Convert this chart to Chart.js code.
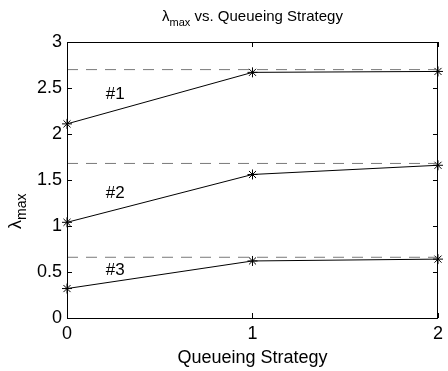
<!DOCTYPE html>
<html>
<head>
<meta charset="utf-8">
<script src="https://cdn.jsdelivr.net/npm/chart.js@4"></script>
<style>
    html, body { margin: 0; padding: 0; background: #fff; }
    #wrap { width: 448px; height: 371px; }
</style>
</head>
<body>
<div id="wrap"><canvas id="chart" width="448" height="371"></canvas></div>
<script>
// Queueing strategies on the x axis
const strategies = [0, 1, 2];

// lambda_max for the three cases
const lambda1 = [2.11, 2.67, 2.68];
const lambda2 = [1.04, 1.56, 1.66];
const lambda3 = [0.32, 0.62, 0.64];

// dashed upper bounds, drawn from first to last strategy
const boundX = [0, 2];
const bounds = [2.70, 1.68, 0.66];

// case labels and where they sit (data units)
const caseLabels = ['#1', '#2', '#3'];
const caseLabelX = [0.26, 0.26, 0.26];
const caseLabelY = [2.43, 1.36, 0.52];

const yTicks = [0, 0.5, 1, 1.5, 2, 2.5, 3];

const FONT = '"Liberation Sans", Arial, Helvetica, sans-serif';

function toPoints(xs, ys) {
    return xs.map((x, i) => ({ x: x, y: ys[i] }));
}

const boundSets = bounds.map(b => ({
    data: toPoints(boundX, [b, b]),
    borderColor: '#7a7a7a',
    borderWidth: 1,
    borderDash: [11, 8],
    pointRadius: 0,
    fill: false,
    clip: false
}));

const lineSets = [lambda1, lambda2, lambda3].map(vals => ({
    data: toPoints(strategies, vals),
    borderColor: '#000',
    borderWidth: 1,
    pointStyle: 'star',
    pointRadius: 5,
    pointBorderColor: '#000',
    pointBorderWidth: 1,
    fill: false,
    clip: false
}));

// box, inward ticks, titles and case labels, MATLAB style
const matlabDecor = {
    id: 'matlabDecor',
    afterDraw(chart) {
        const ctx = chart.ctx;
        const area = chart.chartArea;
        const xs = chart.scales.x;
        const ys = chart.scales.y;
        ctx.save();
        ctx.strokeStyle = '#000';
        ctx.lineWidth = 1;

        // box
        ctx.strokeRect(area.left + 0.5, area.top + 0.5, area.right - area.left - 1, area.bottom - area.top);

        // inward ticks
        const tl = 5;
        ctx.beginPath();
        yTicks.forEach(v => {
            const y = Math.round(ys.getPixelForValue(v)) + 0.5;
            ctx.moveTo(area.left, y); ctx.lineTo(area.left + tl, y);
            ctx.moveTo(area.right, y); ctx.lineTo(area.right - tl, y);
        });
        strategies.forEach(v => {
            const x = Math.round(xs.getPixelForValue(v)) + 0.5;
            ctx.moveTo(x, area.bottom); ctx.lineTo(x, area.bottom - tl);
            ctx.moveTo(x, area.top); ctx.lineTo(x, area.top + tl);
        });
        ctx.stroke();

        ctx.fillStyle = '#000';
        const cx = (area.left + area.right) / 2;

        // title with subscript
        const tMain = ' vs. Queueing Strategy';
        ctx.font = '15px ' + FONT;
        const wL = ctx.measureText('\u03bb').width;
        const wMain = ctx.measureText(tMain).width;
        ctx.font = '11px ' + FONT;
        const wSub = ctx.measureText('max').width;
        let tx = cx - (wL + wSub + wMain) / 2;
        ctx.textBaseline = 'alphabetic';
        ctx.textAlign = 'left';
        ctx.font = '15px ' + FONT;
        ctx.fillText('\u03bb', tx, 21);
        ctx.font = '11px ' + FONT;
        ctx.fillText('max', tx + wL, 26);
        ctx.font = '15px ' + FONT;
        ctx.fillText(tMain, tx + wL + wSub, 21);

        // x axis title
        ctx.font = '18px ' + FONT;
        ctx.textAlign = 'center';
        ctx.fillText('Queueing Strategy', cx, 363);

        // y axis title, rotated
        ctx.save();
        ctx.translate(21, 229);
        ctx.rotate(-Math.PI / 2);
        ctx.textAlign = 'left';
        ctx.font = '18px ' + FONT;
        ctx.fillText('\u03bb', 0, 0);
        const wl = ctx.measureText('\u03bb').width;
        ctx.font = '14px ' + FONT;
        ctx.fillText('max', wl, 5);
        ctx.restore();

        // case labels
        ctx.font = '17px ' + FONT;
        ctx.textAlign = 'center';
        ctx.textBaseline = 'middle';
        caseLabels.forEach((t, i) => {
            ctx.fillText(t, xs.getPixelForValue(caseLabelX[i]), ys.getPixelForValue(caseLabelY[i]));
        });
        ctx.restore();
    }
};

new Chart(document.getElementById('chart'), {
    type: 'line',
    data: { datasets: boundSets.concat(lineSets) },
    options: {
        responsive: false,
        animation: false,
        devicePixelRatio: 1,
        layout: { padding: { top: 42, right: 4, left: 0, bottom: 0 } },
        plugins: {
            legend: { display: false },
            title: { display: false },
            tooltip: { enabled: false }
        },
        scales: {
            x: {
                type: 'linear',
                min: 0,
                max: 2,
                afterBuildTicks: s => { s.ticks = strategies.map(v => ({ value: v })); },
                afterFit: s => { s.height = 53; },
                grid: { display: false, drawTicks: false },
                border: { display: false },
                ticks: {
                    color: '#000', padding: 5, maxRotation: 0,
                    font: { family: FONT, size: 18 },
                    callback: v => String(v)
                }
            },
            y: {
                type: 'linear',
                min: 0,
                max: 3,
                afterBuildTicks: s => { s.ticks = yTicks.map(v => ({ value: v })); },
                afterFit: s => { s.width = 67; },
                grid: { display: false, drawTicks: false },
                border: { display: false },
                ticks: {
                    color: '#000', padding: 5,
                    font: { family: FONT, size: 18 },
                    callback: v => String(v)
                }
            }
        }
    },
    plugins: [matlabDecor]
});
</script>
</body>
</html>
